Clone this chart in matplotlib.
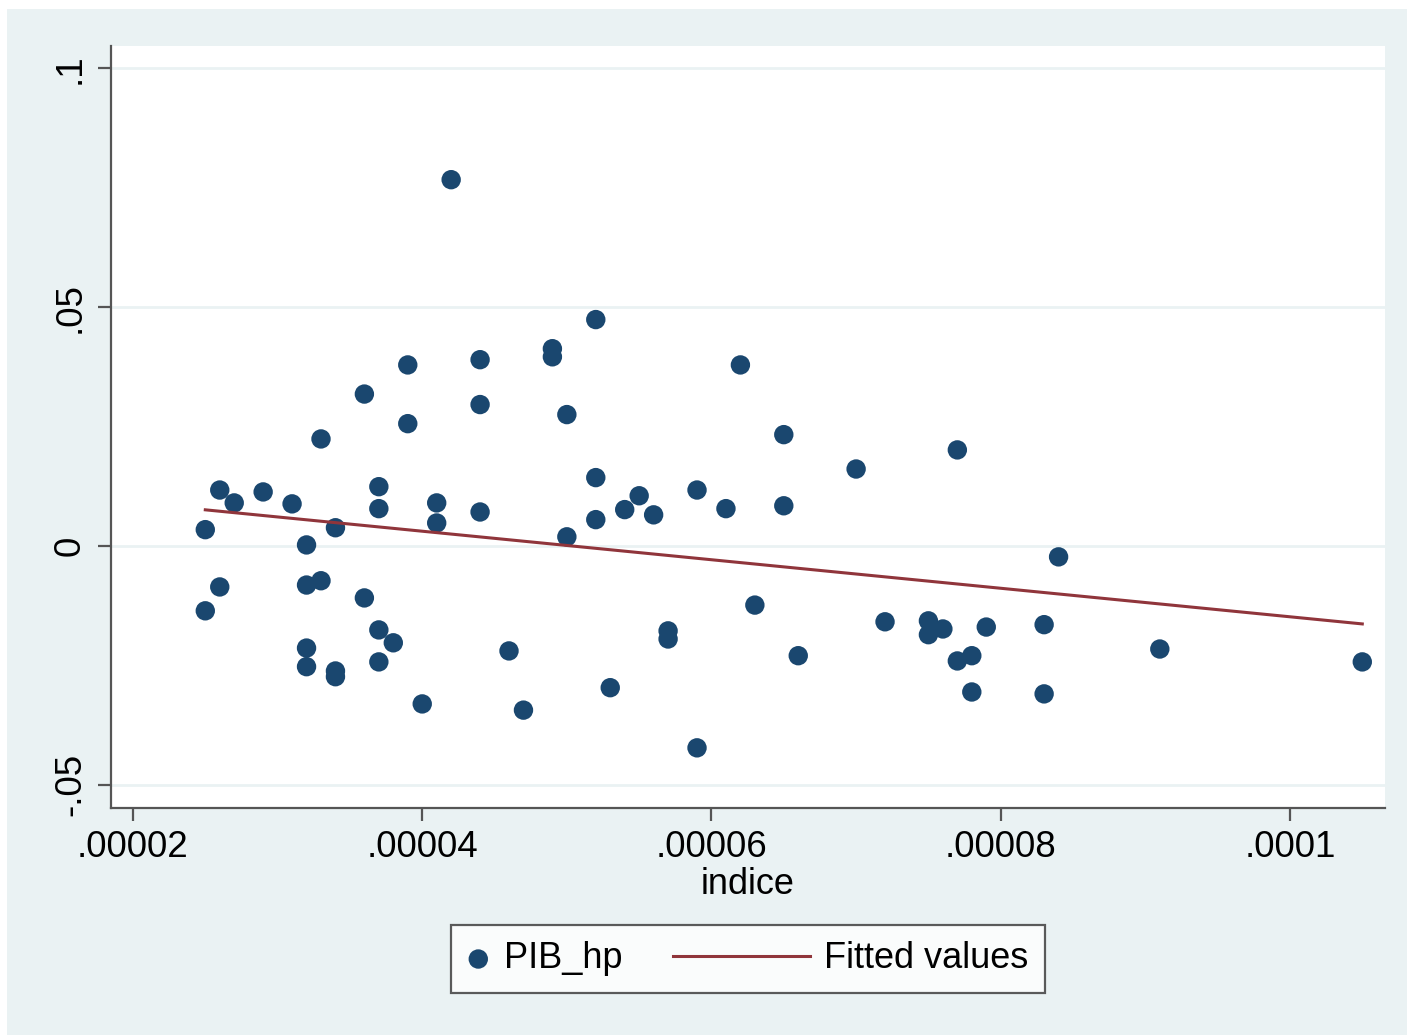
import numpy as np
import matplotlib
matplotlib.use("Agg")
import matplotlib.pyplot as plt
from matplotlib.patches import Rectangle
from matplotlib.lines import Line2D
from matplotlib.legend_handler import HandlerLine2D

plt.rcParams['font.family'] = ['Liberation Sans', 'DejaVu Sans']

# ---- data ----
indice = [2.5e-5, 2.5e-5, 2.6e-5, 2.6e-5, 2.7e-5, 2.9e-5, 3.1e-5,
          3.2e-5, 3.2e-5, 3.2e-5, 3.2e-5, 3.3e-5, 3.3e-5, 3.4e-5, 3.4e-5, 3.4e-5,
          3.6e-5, 3.6e-5, 3.7e-5, 3.7e-5, 3.7e-5, 3.7e-5, 3.8e-5,
          3.9e-5, 3.9e-5, 4.0e-5, 4.1e-5, 4.1e-5, 4.2e-5,
          4.4e-5, 4.4e-5, 4.4e-5, 4.6e-5, 4.7e-5, 4.9e-5, 4.9e-5,
          5.0e-5, 5.0e-5, 5.2e-5, 5.2e-5, 5.2e-5, 5.3e-5, 5.4e-5, 5.5e-5, 5.6e-5,
          5.7e-5, 5.7e-5, 5.9e-5, 5.9e-5, 6.1e-5, 6.2e-5, 6.3e-5, 6.5e-5, 6.5e-5,
          6.6e-5, 7.0e-5, 7.2e-5, 7.5e-5, 7.5e-5, 7.6e-5, 7.7e-5, 7.7e-5,
          7.8e-5, 7.8e-5, 7.9e-5, 8.3e-5, 8.3e-5, 8.4e-5, 9.1e-5, 1.05e-4]
pib_hp = [0.0034, -0.0136, 0.0117, -0.0086, 0.0090, 0.0113, 0.0088,
          0.0002, -0.0082, -0.0214, -0.0253, 0.0224, -0.0073, 0.0038, -0.0262, -0.0274,
          0.0318, -0.0109, 0.0124, 0.0078, -0.0176, -0.0243, -0.0203,
          0.0379, 0.0256, -0.0331, 0.0090, 0.0048, 0.0767,
          0.0390, 0.0296, 0.0071, -0.0220, -0.0344, 0.0413, 0.0396,
          0.0275, 0.0019, 0.0474, 0.0143, 0.0055, -0.0297, 0.0076, 0.0105, 0.0065,
          -0.0178, -0.0195, 0.0117, -0.0423, 0.0078, 0.0379, -0.0124, 0.0233, 0.0084,
          -0.0230, 0.0161, -0.0159, -0.0157, -0.0186, -0.0174, 0.0201, -0.0241,
          -0.0230, -0.0306, -0.0170, -0.0165, -0.0310, -0.0023, -0.0216, -0.0243]

x_ticks = [0.00002, 0.00004, 0.00006, 0.00008, 0.0001]
x_ticklabels = ['.00002', '.00004', '.00006', '.00008', '.0001']
y_ticks = [-0.05, 0, 0.05, 0.1]
y_ticklabels = ['-.05', '0', '.05', '.1']

# ---- style ----
W, H = 1407, 1035
NAVY = '#1a476f'
MAROON = '#90353b'
BG = '#eaf2f3'
SPINE = '#555555'

fig = plt.figure(figsize=(W / 100, H / 100), dpi=100, facecolor='white')
fig.patches.append(Rectangle((7 / W, 0), 1 - 7 / W, 1 - 9 / H,
                             transform=fig.transFigure, facecolor=BG,
                             edgecolor='none', zorder=-10))

ax = fig.add_axes([111 / W, 1 - 808 / H, (1385 - 111) / W, (808 - 46) / H])
ax.set_facecolor('white')

x = np.array(indice)
y = np.array(pib_hp)
slope, intercept = np.polyfit(x, y, 1)
xs = np.array([x.min(), x.max()])

ax.scatter(x, y, s=195, color=NAVY, edgecolors='none', zorder=3, label='PIB_hp')
ax.plot(xs, intercept + slope * xs, color=MAROON, lw=2.2, zorder=4, label='Fitted values')

ax.set_xlim(1.848e-5, 1.0657e-4)
ax.set_ylim(-0.0549, 0.1047)
ax.set_xticks(x_ticks)
ax.set_xticklabels(x_ticklabels)
ax.set_yticks(y_ticks)
ax.set_yticklabels(y_ticklabels, rotation=90, va='center')

ax.grid(axis='y', color=BG, lw=2.0, zorder=0)
ax.grid(axis='x', visible=False)
for s in ['top', 'right']:
    ax.spines[s].set_visible(False)
for s in ['left', 'bottom']:
    ax.spines[s].set_color(SPINE)
    ax.spines[s].set_linewidth(1.6)
ax.tick_params(axis='both', direction='out', length=9.5, width=1.6, color=SPINE,
               labelsize=26.5, labelcolor='black')
ax.tick_params(axis='x', pad=6)
ax.tick_params(axis='y', pad=7)

ax.set_xlabel('indice', fontsize=26, labelpad=2)


class WideLineHandler(HandlerLine2D):
    def create_artists(self, legend, orig_handle, xdescent, ydescent,
                       width, height, fontsize, trans):
        ydata = [height / 2 - ydescent] * 2
        line = Line2D([-xdescent - 83, width - xdescent], ydata,
                      color=MAROON, lw=2.2)
        line.set_transform(trans)
        return [line]


handles, labels = ax.get_legend_handles_labels()
leg = fig.legend(handles, labels, loc='center', bbox_to_anchor=(748 / W, 1 - 959 / H),
                 ncol=2, fontsize=26, frameon=True, fancybox=False,
                 handlelength=0.6, handletextpad=0.4, columnspacing=4.6,
                 borderpad=0.45, scatterpoints=1,
                 handler_map={handles[1]: WideLineHandler()})
leg.get_frame().set_edgecolor('#333333')
leg.get_frame().set_linewidth(1.6)
leg.get_frame().set_facecolor('white')

fig.savefig('out.png', dpi=100, facecolor=fig.get_facecolor())
